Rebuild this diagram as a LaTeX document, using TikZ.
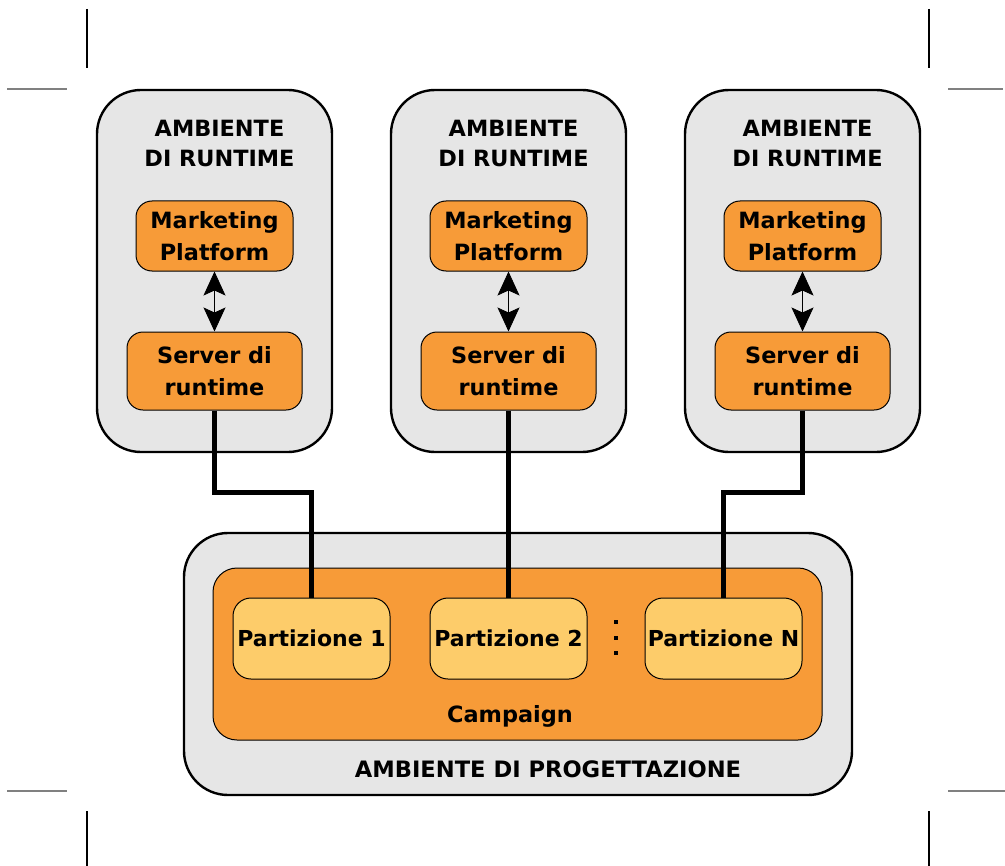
\documentclass[tikz,border=0pt]{standalone}
\usepackage{fontspec}
\setmainfont{DejaVu Sans}
\usepackage{tikz}
\usetikzlibrary{arrows.meta}

\definecolor{envgrey}{HTML}{E6E6E6}
\definecolor{mporange}{HTML}{F79B38}
\definecolor{partyellow}{HTML}{FDCC6A}

\tikzset{
  envbox/.style={draw, line width=1.2pt, fill=envgrey, rounded corners=22pt},
  orangebox/.style={draw, line width=0.5pt, fill=mporange, rounded corners=8pt,
    align=center, font=\bfseries\fontsize{11.2}{16}\selectfont},
  partbox/.style={draw, line width=0.5pt, fill=partyellow, rounded corners=9pt, inner xsep=0.5pt,
    minimum width=78.5pt, minimum height=40.5pt, font=\bfseries\fontsize{11}{16}\selectfont},
  envtitle/.style={align=center, font=\bfseries\fontsize{11.2}{15}\selectfont},
  link/.style={line width=2.5pt},
  bidir/.style={line width=0.4pt, {Stealth[length=12pt,width=11pt,inset=2.5pt]}-{Stealth[length=12pt,width=11pt,inset=2.5pt]}},
  cropmark/.style={line width=0.6pt}
}

\begin{document}
\begin{tikzpicture}[x=0.5pt,y=-0.5pt]
    \useasboundingbox (0,0) rectangle (1005,866);

    % Crop marks
    \draw[cropmark] (87,9) -- (87,68);
    \draw[cropmark,gray] (7,89) -- (67,89);
    \draw[cropmark] (929,9) -- (929,68);
    \draw[cropmark,gray] (948,89) -- (1003,89);
    \draw[cropmark,gray] (7,791) -- (67,791);
    \draw[cropmark] (87,811) -- (87,866);
    \draw[cropmark,gray] (948,791) -- (1005,791);
    \draw[cropmark] (929,811) -- (929,866);

    % Runtime environments
    \foreach \i/\x in {1/214.5,2/508.5,3/802.5} {
      \node[envbox, minimum width=117.5pt, minimum height=181pt] (env\i) at (\x,271) {};
      \node[envtitle] (title\i) at (\x+5,143) {AMBIENTE\\DI RUNTIME};
      \node[orangebox, minimum width=78.5pt, minimum height=35pt] (mp\i) at (\x,236) {Marketing\\Platform};
      \node[orangebox, minimum width=87.5pt, minimum height=39pt] (srv\i) at (\x,371) {Server di\\runtime};
      \draw[bidir] (mp\i.south) -- (srv\i.north);
    }

    % Design environment
    \node[envbox, minimum width=334pt, minimum height=131pt] (design) at (518,664) {};
    \node[font=\bfseries\fontsize{11.3}{15}\selectfont] (designlabel) at (548,769) {AMBIENTE DI PROGETTAZIONE};
    \node[orangebox, rounded corners=12pt, minimum width=304.5pt, minimum height=86pt] (campaign) at (517.5,654) {};
    \node[font=\bfseries\fontsize{11.2}{15}\selectfont] (campaignlabel) at (510,716) {Campaign};

    % Partitions
    \node[partbox] (p1) at (311.5,638.5) {Partizione 1};
    \node[partbox] (p2) at (508.5,638.5) {Partizione 2};
    \node[partbox] (pN) at (723.5,638.5) {Partizione N};
    \foreach \y in {622,638,653}
      \fill (614,\y-2) rectangle (618,\y+2);

    % Links runtime -> partitions
    \draw[link] (srv1.south) -- ++(0,82) -| (p1.north);
    \draw[link] (srv2.south) -- (p2.north);
    \draw[link] (srv3.south) -- ++(0,82) -| (pN.north);
\end{tikzpicture}
\end{document}
